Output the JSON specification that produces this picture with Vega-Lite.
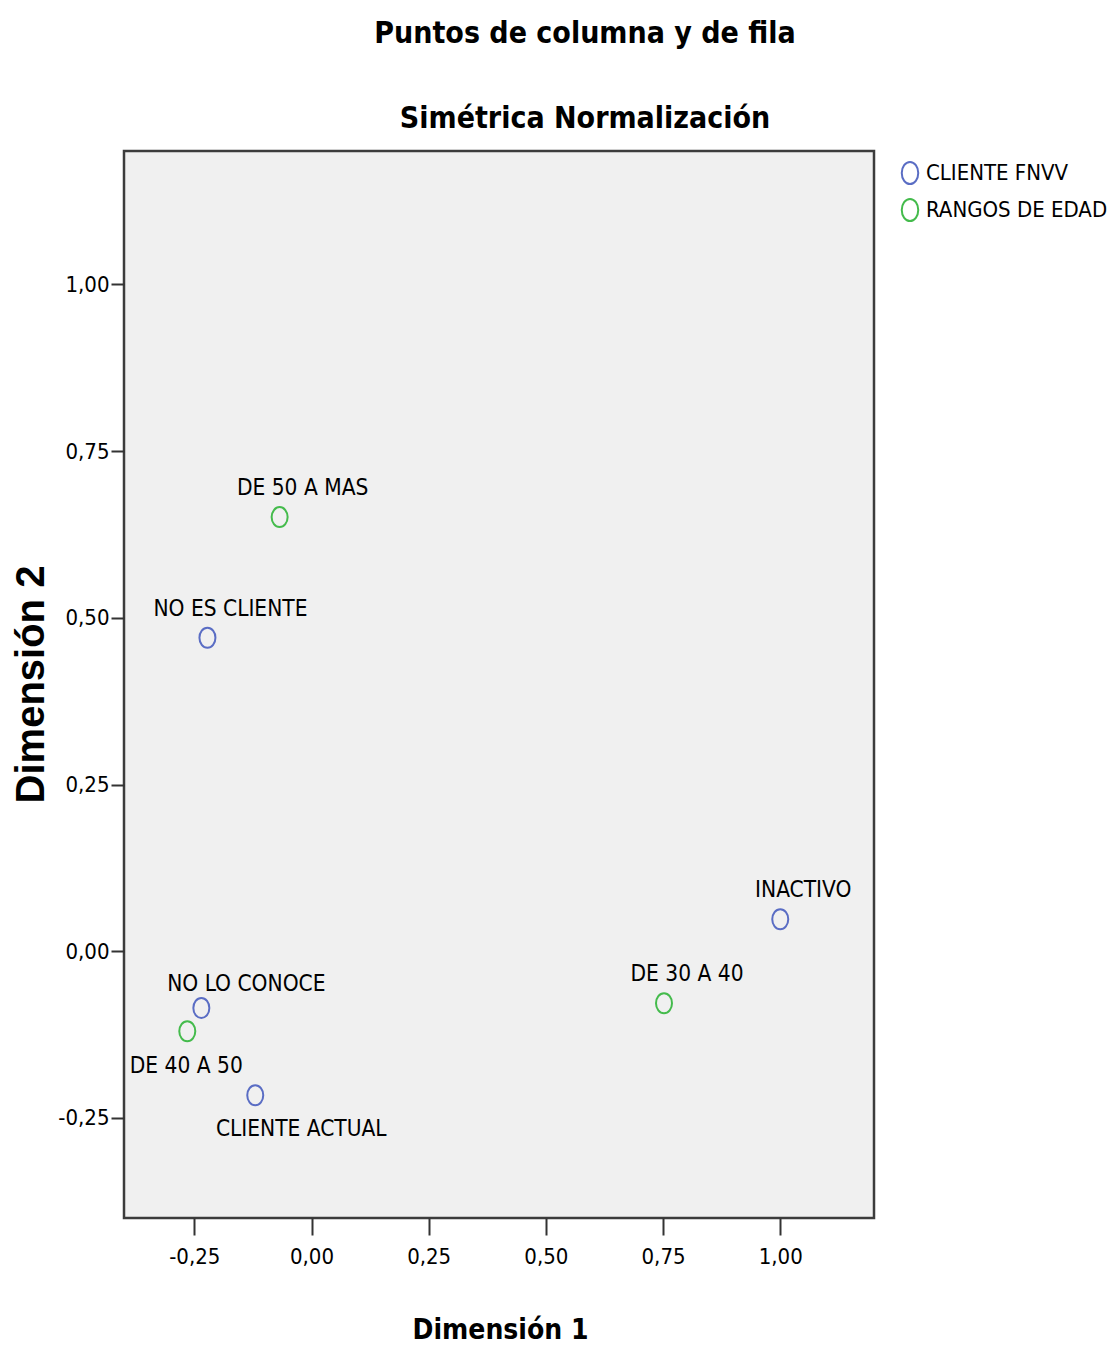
{
  "$schema": "https://vega.github.io/schema/vega-lite/v6.json",
  "width": 750,
  "height": 1067,
  "autosize": "none",
  "padding": {"left": 124, "top": 151, "right": 245, "bottom": 128},
  "background": "white",
  "config": {
    "view": {"fill": "#f0f0f0", "stroke": "#3c3c3c", "strokeWidth": 2.5},
    "font": "DejaVu Sans Condensed, Liberation Sans"
  },
  "title": {
    "text": ["Puntos de columna y de fila", "Simétrica Normalización"],
    "anchor": "middle",
    "frame": "group",
    "dx": 86,
    "font": "DejaVu Sans Condensed, Liberation Sans",
    "fontSize": 30,
    "fontWeight": "bold",
    "color": "#000000",
    "lineHeight": 85,
    "offset": 17
  },
  "data": {
    "values": [
      {"label": "NO ES CLIENTE", "grupo": "CLIENTE FNVV", "d1": -0.222, "d2": 0.470},
      {"label": "INACTIVO", "grupo": "CLIENTE FNVV", "d1": 1.0, "d2": 0.048},
      {"label": "NO LO CONOCE", "grupo": "CLIENTE FNVV", "d1": -0.235, "d2": -0.085},
      {"label": "CLIENTE ACTUAL", "grupo": "CLIENTE FNVV", "d1": -0.120, "d2": -0.216},
      {"label": "DE 50 A MAS", "grupo": "RANGOS DE EDAD", "d1": -0.068, "d2": 0.651},
      {"label": "DE 30 A 40", "grupo": "RANGOS DE EDAD", "d1": 0.752, "d2": -0.078},
      {"label": "DE 40 A 50", "grupo": "RANGOS DE EDAD", "d1": -0.265, "d2": -0.120}
    ]
  },
  "encoding": {
    "x": {
      "field": "d1",
      "type": "quantitative",
      "scale": {"domain": [-0.4, 1.2], "nice": false, "zero": false},
      "axis": {
        "values": [-0.25, 0, 0.25, 0.5, 0.75, 1],
        "labelExpr": "replace(replace(format(datum.value, '.2f'), '.', ','), '−', '-')",
        "domain": false,
        "grid": false,
        "tickSize": 17,
        "tickWidth": 2,
        "tickColor": "#333333",
        "labelFont": "DejaVu Sans Condensed, Liberation Sans",
        "labelFontSize": 22,
        "labelColor": "#000000",
        "labelPadding": 11,
        "title": "Dimensión 1",
        "titleFont": "DejaVu Sans Condensed, Liberation Sans",
        "titleFontSize": 28,
        "titleFontWeight": "bold",
        "titleColor": "#000000",
        "titleX": 376,
        "titleY": 120,
        "titleAlign": "center",
        "titleBaseline": "alphabetic"
      }
    },
    "y": {
      "field": "d2",
      "type": "quantitative",
      "scale": {"domain": [-0.4, 1.2], "nice": false, "zero": false},
      "axis": {
        "values": [-0.25, 0, 0.25, 0.5, 0.75, 1],
        "labelExpr": "replace(replace(format(datum.value, '.2f'), '.', ','), '−', '-')",
        "domain": false,
        "grid": false,
        "tickSize": 13,
        "tickWidth": 2,
        "tickColor": "#333333",
        "labelFont": "DejaVu Sans Condensed, Liberation Sans",
        "labelFontSize": 22,
        "labelColor": "#000000",
        "labelPadding": 2,
        "title": "Dimensión 2",
        "titleFont": "Liberation Sans",
        "titleFontSize": 40,
        "titleFontWeight": "bold",
        "titleColor": "#000000",
        "titleX": -93,
        "titleY": 533,
        "titleAngle": -90,
        "titleAlign": "center",
        "titleBaseline": "middle"
      }
    }
  },
  "layer": [
    {
      "mark": {
        "type": "point",
        "shape": "M0,-1A0.8,1 0 1,1 0,1A0.8,1 0 1,1 0,-1Z",
        "size": 400,
        "filled": false,
        "strokeWidth": 2,
        "opacity": 1
      },
      "encoding": {
        "color": {
          "field": "grupo",
          "type": "nominal",
          "scale": {"domain": ["CLIENTE FNVV", "RANGOS DE EDAD"], "range": ["#5a6dc4", "#44bb4c"]},
          "legend": {
            "orient": "none",
            "legendX": 774,
            "legendY": 10,
            "title": null,
            "padding": 0,
            "labelFont": "DejaVu Sans Condensed, Liberation Sans",
            "labelFontSize": 22,
            "labelColor": "#000000",
            "labelLimit": 0,
            "symbolType": "M0,-1A0.75,1 0 1,1 0,1A0.75,1 0 1,1 0,-1Z",
            "symbolSize": 484,
            "symbolStrokeWidth": 2,
            "rowPadding": 7,
            "labelOffset": 4
          }
        }
      }
    },
    {
      "transform": [{"filter": "indexof(['DE 50 A MAS','NO ES CLIENTE','INACTIVO','DE 30 A 40'], datum.label) >= 0"}],
      "mark": {"type": "text", "font": "DejaVu Sans Condensed, Liberation Sans", "fontSize": 22.5, "baseline": "alphabetic", "align": "center", "dx": 23, "dy": -22, "color": "#000000"},
      "encoding": {"text": {"field": "label"}}
    },
    {
      "transform": [{"filter": "datum.label == 'NO LO CONOCE'"}],
      "mark": {"type": "text", "font": "DejaVu Sans Condensed, Liberation Sans", "fontSize": 22.5, "baseline": "alphabetic", "align": "center", "dx": 45, "dy": -17, "color": "#000000"},
      "encoding": {"text": {"field": "label"}}
    },
    {
      "transform": [{"filter": "datum.label == 'DE 40 A 50'"}],
      "mark": {"type": "text", "font": "DejaVu Sans Condensed, Liberation Sans", "fontSize": 22.5, "baseline": "alphabetic", "align": "center", "dx": -1, "dy": 42, "color": "#000000"},
      "encoding": {"text": {"field": "label"}}
    },
    {
      "transform": [{"filter": "datum.label == 'CLIENTE ACTUAL'"}],
      "mark": {"type": "text", "font": "DejaVu Sans Condensed, Liberation Sans", "fontSize": 22.5, "baseline": "alphabetic", "align": "center", "dx": 46, "dy": 41, "color": "#000000"},
      "encoding": {"text": {"field": "label"}}
    }
  ]
}
